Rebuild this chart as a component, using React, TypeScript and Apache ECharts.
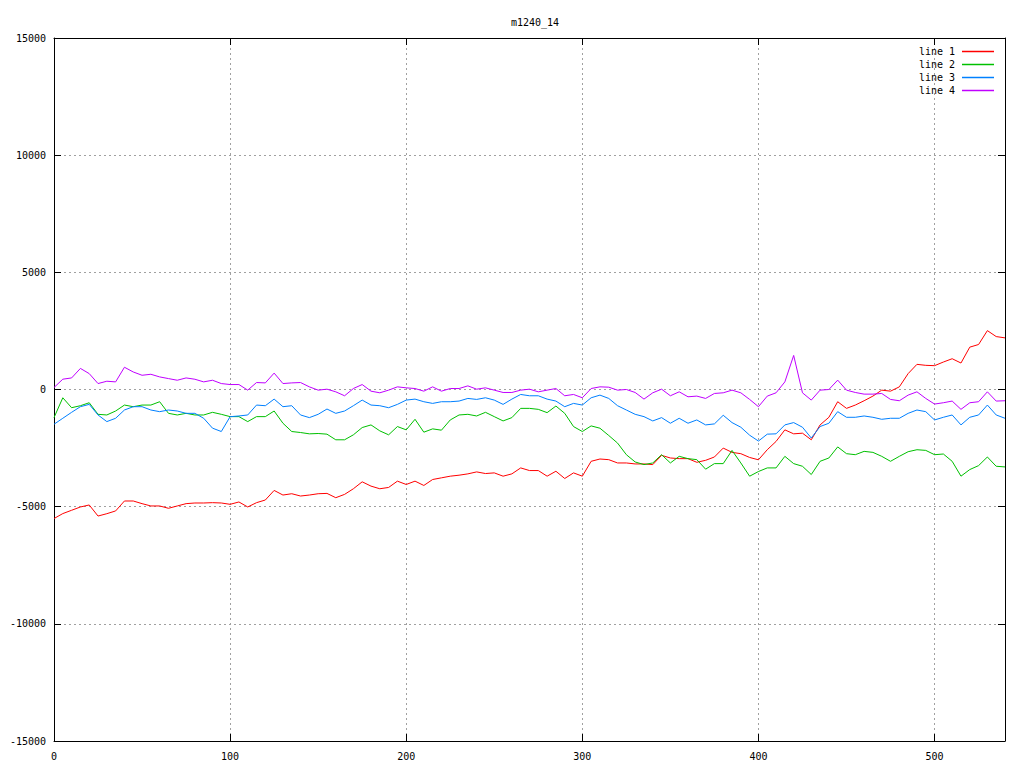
import React, { useEffect, useRef } from "react";
import * as echarts from "echarts";

const TITLE = "m1240_14";
const X_STEP = 5; // sampling step of the values below, x = 0 .. 540
const X_TICKS = [0, 100, 200, 300, 400, 500];
const Y_TICKS = [-15000, -10000, -5000, 0, 5000, 10000, 15000];
const SERIES_NAMES = ["line 1", "line 2", "line 3", "line 4"];
const SERIES_COLORS = ["#ff0000", "#00c000", "#0080ff", "#c000ff"];

const line1 = [
  -5507, -5295, -5154, -5013, -4928, -5400, -5300, -5182, -4758, -4758, -4871, -4970, -4970, -5069, -4970, -4871, -4843, -4843, -4829,
  -4843, -4900, -4800, -5013, -4829, -4716, -4307, -4504, -4448, -4546, -4504, -4448, -4434, -4617, -4476, -4236, -3940, -4123,
  -4236, -4180, -3911, -4053, -3911, -4095, -3841, -3770, -3699, -3657, -3600, -3516, -3586, -3558, -3699, -3600, -3346, -3459,
  -3459, -3699, -3488, -3798, -3558, -3699, -3064, -2966, -2994, -3135, -3135, -3177, -3177, -3205, -2810, -2923, -2951, -2951,
  -3106, -3022, -2880, -2500, -2683, -2739, -2900, -3000, -2570, -2217, -1722, -1892, -1864, -2146, -1511, -1186, -522, -805,
  -664, -480, -282, -28, -71, 113, 678, 1073, 1031, 1017, 1172, 1313, 1130, 1807, 1920, 2513, 2259, 2203,
];

const line2 = [
  -1200, -353, -777, -692, -565, -1059, -1087, -918, -664, -734, -664, -664, -522, -1017, -1087, -1017, -1087, -1087, -974,
  -1059, -1158, -1158, -1370, -1158, -1158, -918, -1440, -1793, -1836, -1892, -1878, -1906, -2146, -2146, -1934, -1624, -1511,
  -1765, -1934, -1581, -1722, -1271, -1821, -1680, -1736, -1299, -1087, -1059, -1130, -974, -1158, -1341, -1200, -805, -805,
  -847, -988, -706, -1017, -1581, -1793, -1553, -1652, -1963, -2287, -2782, -3092, -3205, -3135, -2782, -3135, -2852, -2951,
  -2993, -3400, -3163, -3163, -2600, -3135, -3700, -3500, -3346, -3346, -2852, -3163, -3276, -3629, -3064, -2923, -2450, -2739,
  -2782, -2640, -2683, -2852, -3064, -2852, -2655, -2570, -2598, -2782, -2753, -3064, -3699, -3417, -3248, -2880, -3276, -3304,
];

const line3 = [
  -1483, -1228, -974, -734, -635, -1087, -1370, -1228, -875, -734, -734, -875, -946, -875, -918, -1017, -1017, -1228, -1650,
  -1793, -1160, -1130, -1087, -664, -692, -410, -734, -692, -1087, -1200, -1059, -833, -1017, -918, -692, -452, -664,
  -692, -777, -635, -452, -410, -522, -593, -522, -522, -494, -381, -423, -353, -452, -635, -410, -212, -268,
  -268, -410, -494, -734, -593, -664, -353, -240, -381, -692, -875, -1059, -1158, -1341, -1200, -1440, -1228, -1440,
  -1299, -1511, -1468, -1100, -1412, -1610, -1950, -2200, -1906, -1892, -1511, -1412, -1610, -2071, -1581, -1440, -946, -1186,
  -1186, -1130, -1186, -1271, -1228, -1228, -1017, -875, -946, -1299, -1186, -1087, -1511, -1186, -1087, -664, -1087, -1228,
];

const line4 = [
  85, 440, 494, 900, 678, 254, 353, 325, 950, 748, 607, 650, 537, 466, 395, 494, 438, 325, 395,
  254, 212, 212, -28, 297, 282, 700, 254, 282, 297, 113, -28, 14, -99, -268, 42, 212, -71,
  -141, -28, 113, 71, 42, -71, 113, -71, 42, 42, 155, 14, 71, -28, -127, -127, -28, 14,
  -99, -28, 42, -268, -212, -353, 42, 113, 99, -28, 0, -127, -410, -141, 14, -268, -99, -311,
  -282, -381, -169, -141, -28, -141, -424, -734, -282, -141, 325, 1454, -141, -452, -28, 0, 400, -28,
  -127, -198, -198, -169, -424, -480, -240, -99, -381, -621, -565, -494, -847, -565, -522, -99, -494, -480,
];

const SERIES_VALUES = [line1, line2, line3, line4];

const FONT = "'DejaVu Sans Mono', 'Liberation Mono', monospace";

export default function App() {
  const ref = useRef<HTMLDivElement>(null);

  useEffect(() => {
    if (!ref.current) return;
    const chart = echarts.init(ref.current, null, { renderer: "svg" });

    const xMin = X_TICKS[0];
    const xMax = 540;
    const xInterval = X_TICKS[1] - X_TICKS[0];
    const yMin = Y_TICKS[0];
    const yMax = Y_TICKS[Y_TICKS.length - 1];
    const yInterval = Y_TICKS[1] - Y_TICKS[0];

    const gridLine = {
      show: true,
      lineStyle: { color: "#a0a0a0", type: [2, 3] as number[], width: 1 },
    };
    const tickInside = {
      show: true,
      inside: true,
      length: 7,
      lineStyle: { color: "#000", width: 1 },
    };
    const axisLineBlack = { show: true, onZero: false, lineStyle: { color: "#000", width: 1 } };
    const labelStyle = { color: "#000", fontFamily: FONT, fontSize: 10 };

    chart.setOption({
      animation: false,
      backgroundColor: "#ffffff",
      title: {
        text: TITLE,
        left: 530,
        top: 12,
        textAlign: "center",
        textStyle: { color: "#000", fontFamily: FONT, fontSize: 10, fontWeight: "normal" },
      },
      legend: {
        data: SERIES_NAMES.map((n) => ({ name: n, icon: "rect" })),
        orient: "vertical",
        right: 25,
        top: 40,
        align: "right",
        itemWidth: 32,
        itemHeight: 1.5,
        itemGap: 0,
        textStyle: { color: "#000", fontFamily: FONT, fontSize: 10, lineHeight: 13, padding: [0, 2, 0, 0] },
        selectedMode: false,
      },
      grid: { left: 54, right: 19, top: 38, bottom: 27, containLabel: false },
      xAxis: [
        {
          type: "value",
          position: "bottom",
          min: xMin,
          max: xMax,
          interval: xInterval,
          axisLine: axisLineBlack,
          axisTick: tickInside,
          axisLabel: { ...labelStyle, margin: 10, showMaxLabel: false, formatter: (v: number) => String(v) },
          splitLine: gridLine,
        },
        {
          type: "value",
          position: "top",
          min: xMin,
          max: xMax,
          interval: xInterval,
          axisLine: axisLineBlack,
          axisTick: tickInside,
          axisLabel: { show: false },
          splitLine: { show: false },
        },
      ],
      yAxis: [
        {
          type: "value",
          position: "left",
          min: yMin,
          max: yMax,
          interval: yInterval,
          axisLine: axisLineBlack,
          axisTick: tickInside,
          axisLabel: { ...labelStyle, margin: 8, formatter: (v: number) => String(v) },
          splitLine: gridLine,
        },
        {
          type: "value",
          position: "right",
          min: yMin,
          max: yMax,
          interval: yInterval,
          axisLine: axisLineBlack,
          axisTick: tickInside,
          axisLabel: { show: false },
          splitLine: { show: false },
        },
      ],
      series: SERIES_VALUES.map((vals, si) => ({
        name: SERIES_NAMES[si],
        type: "line",
        xAxisIndex: 0,
        yAxisIndex: 0,
        symbol: "none",
        smooth: false,
        color: SERIES_COLORS[si],
        lineStyle: { color: SERIES_COLORS[si], width: 1 },
        data: vals.map((v, i) => [i * X_STEP, v]),
      })),
    });

    return () => chart.dispose();
  }, []);

  return (
    <div
      ref={ref}
      style={{ position: "fixed", left: 0, top: 0, width: 1024, height: 768, background: "#fff" }}
    />
  );
}
